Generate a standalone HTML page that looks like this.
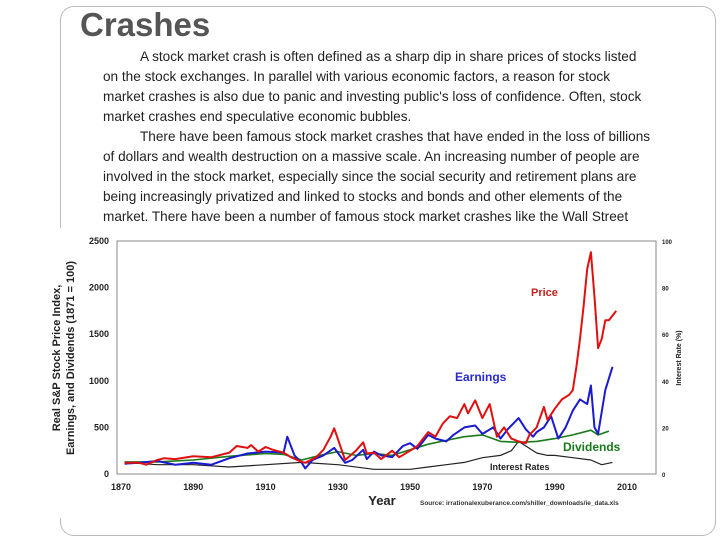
<!DOCTYPE html>
<html><head><meta charset="utf-8">
<style>
body{margin:0;width:720px;height:540px;background:#fff;position:relative;overflow:hidden;font-family:"Liberation Sans",sans-serif}
#frame{position:absolute;left:60px;top:6px;width:654px;height:528px;border:1px solid #bbb;border-radius:14px}
#title{position:absolute;left:80px;top:6px;font-size:33px;font-weight:bold;color:#555}
#body{position:absolute;left:103px;top:47px;width:548px;font-size:13.6px;line-height:20px;color:#222}
#body p{margin:0;text-indent:37px}
svg{position:absolute;left:0;top:0}
</style></head><body>
<div id="frame"></div>
<div id="title">Crashes</div>
<div id="body">
<p>A stock market crash is often defined as a sharp dip in share prices of stocks listed on the stock exchanges. In parallel with various economic factors, a reason for stock market crashes is also due to panic and investing public's loss of confidence. Often, stock market crashes end speculative economic bubbles.</p>
<p>There have been famous stock market crashes that have ended in the loss of billions of dollars and wealth destruction on a massive scale. An increasing number of people are involved in the stock market, especially since the social security and retirement plans are being increasingly privatized and linked to stocks and bonds and other elements of the market. There have been a number of famous stock market crashes like the Wall Street Crash of 1929, the stock market crash of 1973–4, the Black Monday of 1987, the Dot-com bubble of 2000.</p>
</div>
<svg id="chart" width="720" height="540"></svg>
<script>
const priceYears=[1871,1875,1877,1880,1882,1885,1890,1895,1900,1902,1905,1906,1908,1910,1912,1915,1917,1920,1921,1924,1926,1928,1929,1932,1935,1937,1938,1940,1942,1945,1947,1950,1952,1955,1957,1959,1961,1963,1965,1966,1968,1970,1972,1974,1976,1978,1980,1982,1983,1985,1987,1988,1990,1992,1994,1995,1996,1997,1998,1999,2000,2001,2002,2003,2004,2005,2006,2007];
const priceVals=[120,120,100,150,170,160,190,180,230,300,280,310,240,290,260,230,180,130,120,180,260,400,490,150,250,340,220,230,160,250,180,250,300,450,400,540,620,600,750,650,790,600,750,400,500,380,350,330,420,500,720,580,700,800,850,900,1150,1450,1800,2200,2380,1900,1350,1450,1650,1650,1700,1750];
const earnYears=[1871,1875,1880,1885,1890,1895,1900,1905,1910,1915,1916,1918,1920,1921,1923,1926,1929,1932,1934,1937,1938,1940,1942,1945,1948,1950,1952,1955,1957,1960,1962,1965,1968,1970,1973,1975,1977,1979,1980,1982,1984,1985,1987,1989,1991,1993,1995,1997,1999,2000,2001,2002,2004,2006];
const earnVals=[110,120,140,100,120,100,170,220,240,230,400,200,120,60,150,200,280,120,150,260,160,240,200,180,300,330,270,420,380,350,420,500,520,430,500,380,480,560,600,480,400,450,500,620,380,500,680,800,750,950,500,430,900,1150];
const divYears=[1871,1880,1890,1900,1910,1915,1920,1925,1930,1935,1940,1945,1950,1955,1960,1965,1970,1975,1980,1985,1990,1995,2000,2002,2005];
const divVals=[130,130,150,190,220,210,150,200,240,200,220,200,260,320,360,400,420,350,340,350,380,420,470,420,460];
const rateYears=[1871,1880,1890,1900,1910,1920,1930,1940,1950,1955,1960,1965,1970,1975,1978,1980,1982,1985,1988,1990,1995,2000,2003,2006];
const rateVals=[5,4,4,3,4,5,4,2,2,3,4,5,7,8,10,14,12,9,8,8,7,6,4,5];
const xTicks=[1870,1890,1910,1930,1950,1970,1990,2010];
const yTicks=[0,500,1000,1500,2000,2500];
const y2Ticks=[0,20,40,60,80,100];

const svg=document.getElementById('chart');
const NS='http://www.w3.org/2000/svg';
const L=117,R=656,T=241,B=474;
const x=v=>L+(v-1870)/140*(627-121)+4;
const y=v=>B-v/2500*(B-T);
const y2=v=>B-v/100*(B-T);
function mk(tag,attrs,text){const e=document.createElementNS(NS,tag);for(const k in attrs)e.setAttribute(k,attrs[k]);if(text!==undefined)e.textContent=text;svg.appendChild(e);return e;}
let bg=mk('rect',{x:40,y:228,width:660,height:290,fill:'#fff'});


let box=mk('rect',{x:L,y:T,width:R-L,height:B-T,fill:'none',stroke:'#888','stroke-width':1});


xTicks.forEach(t=>{let e=mk('text',{x:x(t),y:490,'font-size':9,'font-weight':'bold','text-anchor':'middle',fill:'#222'},t);

});
yTicks.forEach(t=>{let e=mk('text',{x:L-8,y:y(t)+3,'font-size':9,'font-weight':'bold','text-anchor':'end',fill:'#222'},t);

});
y2Ticks.forEach(t=>{let e=mk('text',{x:R+6,y:y2(t)+3,'font-size':6,'font-weight':'bold',fill:'#222'},t);

});
function line(xs,vs,fy,col,w,name){const d=xs.map((a,i)=>(i?'L':'M')+x(a).toFixed(1)+','+fy(vs[i]).toFixed(1)).join('');
let e=mk('path',{d:d,fill:'none',stroke:col,'stroke-width':w,'stroke-linejoin':'round'});

}
line(rateYears,rateVals,y2,'#222',1.2,'interest-rates-line');
line(divYears,divVals,y,'#1a7a1a',1.6,'dividends-line');
line(earnYears,earnVals,y,'#1a1ad0',2,'earnings-line');
line(priceYears,priceVals,y,'#e01010',2,'price-line');
const labels=[['Price',531,296,'#c02020',11],['Earnings',455,381,'#2a2ad0',12],['Dividends',563,451,'#1a7a1a',12],['Interest Rates',490,470,'#222',9]];
labels.forEach(l=>{let e=mk('text',{x:l[1],y:l[2],'font-size':l[4],'font-weight':'bold',fill:l[3]},l[0]);

});
let xt=mk('text',{x:382,y:505,'font-size':13,'font-weight':'bold',fill:'#222','text-anchor':'middle'},'Year');


let src=mk('text',{x:420,y:505,'font-size':6.5,'font-weight':'bold',fill:'#333'},'Source: irrationalexuberance.com/shiller_downloads/ie_data.xls');


let yt=mk('text',{transform:'translate(60,358) rotate(-90)','font-size':11,'font-weight':'bold',fill:'#222','text-anchor':'middle'});


const t1=document.createElementNS(NS,'tspan');t1.setAttribute('x',0);t1.setAttribute('dy',0);t1.textContent='Real S&P Stock Price Index,';yt.appendChild(t1);
const t2=document.createElementNS(NS,'tspan');t2.setAttribute('x',0);t2.setAttribute('dy',14);t2.textContent='Earnings, and Dividends (1871 = 100)';yt.appendChild(t2);
let y2t=mk('text',{transform:'translate(681,358) rotate(-90)','font-size':7,'font-weight':'bold',fill:'#222','text-anchor':'middle'},'Interest Rate (%)');


</script>
</body></html>
